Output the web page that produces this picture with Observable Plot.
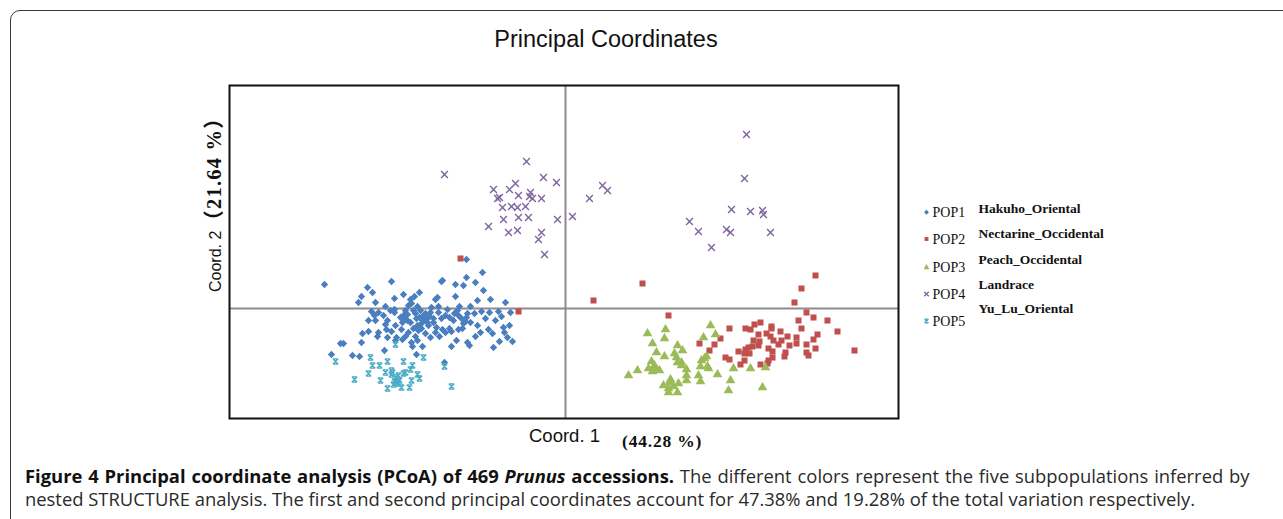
<!DOCTYPE html>
<html>
<head>
<meta charset="utf-8">
<script src="https://cdn.jsdelivr.net/npm/d3@7"></script>
<script src="https://cdn.jsdelivr.net/npm/@observablehq/plot@0.6"></script>
<style>
  html, body { margin: 0; padding: 0; background: #fff; }
  #page { position: relative; width: 1283px; height: 519px; overflow: hidden; background: #fff; }
  #box { position: absolute; left: 10px; top: 10px; width: 1400px; height: 700px; border: 1.5px solid #3a3a3a; border-top-left-radius: 10px; box-sizing: border-box; }
  #chart { position: absolute; left: 0; top: 50px; }
  #overlay { position: absolute; left: 0; top: 0; pointer-events: none; }
  #overlay text { white-space: pre; }
</style>
</head>
<body>
<div id="page">
  <div id="box"></div>
  <div id="chart"></div>
  <svg id="overlay" width="1283" height="519"></svg>
</div>
<script>
// ---- Data (PCoA coordinates, arbitrary units) ----
const popNames = ["POP1", "POP2", "POP3", "POP4", "POP5"];
const popLabels = ["Hakuho_Oriental", "Nectarine_Occidental", "Peach_Occidental", "Landrace", "Yu_Lu_Oriental"];
const popColors = ["#4a7ebf", "#c0504d", "#9bbb59", "#8064a2", "#4bacc6"];
const popSymbols = ["diamond2", "square", "triangle", "times", "star"];

const pop1 = [
[-0.99,0.49],[-0.83,0.36],[-2.41,0.24],[-1.74,0.27],[-1.98,0.21],[-1.93,0.16],[-2.04,0.12],[-2.07,0.06],[-1.90,0.06],[-1.71,0.10],
[-1.51,0.12],[-1.54,0.05],[-1.57,0.03],[-1.48,0.02],[-1.34,0.01],[-1.27,0.02],[-1.30,0.09],[-1.28,0.11],[-1.24,0.27],[-1.23,0.28],
[-1.10,0.24],[-1.02,0.23],[-0.99,0.31],[-0.90,0.26],[-0.75,0.09],[-1.06,0.02],[-0.95,0.02],
[-1.94,-0.03],[-1.87,-0.04],[-1.91,-0.07],[-1.90,-0.12],[-1.97,-0.12],[-1.78,-0.12],[-1.75,-0.02],[-1.71,-0.01],[-1.71,-0.04],
[-1.65,-0.09],[-1.61,-0.06],[-1.52,-0.02],[-1.50,-0.05],[-1.60,-0.10],[-1.55,-0.14],[-1.58,-0.12],[-1.49,-0.10],[-1.46,-0.09],
[-1.43,-0.08],[-1.39,-0.11],[-1.35,-0.04],[-1.27,-0.04],[-1.32,-0.10],[-1.32,-0.14],[-1.37,-0.17],[-1.44,-0.15],[-1.48,-0.17],
[-1.47,-0.22],[-1.44,-0.20],[-1.52,-0.20],[-1.57,-0.24],[-1.64,-0.21],[-1.70,-0.17],[-1.79,-0.21],[-1.74,-0.23],[-1.78,-0.29],
[-1.87,-0.24],[-1.88,-0.28],[-1.97,-0.23],[-2.03,-0.25],[-2.04,-0.34],[-2.22,-0.35],[-2.25,-0.35],[-2.34,-0.46],[-2.13,-0.47],
[-2.06,-0.48],[-1.81,-0.42],[-1.70,-0.32],[-1.69,-0.29],[-1.63,-0.31],[-1.54,-0.34],[-1.53,-0.38],[-1.43,-0.38],[-1.49,-0.46],
[-1.21,-0.54],[-1.20,-0.24],[-1.23,-0.21],[-1.29,-0.19],[-1.16,-0.20],[-1.14,-0.23],[-1.07,-0.21],[-1.03,-0.20],[-1.02,-0.15],
[-1.00,-0.13],[-0.99,-0.09],[-1.07,-0.07],[-1.11,-0.05],[-1.16,-0.09],[-1.08,-0.02],[-0.98,-0.05],[-0.91,-0.05],[-0.84,-0.03],
[-0.76,-0.04],[-0.67,-0.03],[-0.55,-0.04],[-0.88,-0.17],[-0.90,-0.28],[-0.85,-0.24],[-0.77,-0.21],[-0.73,-0.25],[-0.62,-0.19],
[-0.56,-0.17],[-0.61,-0.24],[-0.58,-0.29],[-0.53,-0.33],[-0.66,-0.33],[-0.72,-0.39],[-0.96,-0.37],[-0.98,-0.34],[-1.09,-0.32],
[-1.14,-0.38],[-1.30,-0.24],[-1.40,-0.05],[-1.45,-0.02],[-1.36,-0.08],[-1.60,-0.02],[-1.63,-0.14],[-1.58,-0.06],[-1.42,-0.12],
[-1.38,-0.14],[-1.24,-0.10],[-1.20,-0.07],[-1.12,-0.12],[-1.26,-0.28],[-1.50,-0.28],[-1.40,-0.25],[-1.60,-0.28],[-1.82,-0.07],
[-1.80,-0.16],[-1.48,-0.32],[-1.35,-0.29],[-1.04,-0.10],[-0.95,-0.14],[-0.80,-0.10],[-0.70,-0.12],[-0.64,-0.08],[-1.18,-0.01],
[-1.55,0.09],[-1.80,0.02],[-1.62,0.14],[-1.46,0.16],[-1.10,0.12],[-0.88,0.08],[-0.60,0.06],[-0.82,0.18]
];
const pop2 = [
[-1.05,0.50],[-0.47,-0.03],[0.28,0.08],[0.77,0.25],[1.03,-0.07],[2.50,0.33],[2.36,0.20],[2.29,0.06],[2.41,-0.04],[2.33,-0.12],
[2.48,-0.09],[2.62,-0.12],[2.36,-0.20],[2.72,-0.23],[2.89,-0.42],[2.52,-0.26],[2.48,-0.31],[2.50,-0.40],[2.41,-0.36],[2.41,-0.44],
[2.43,-0.47],[2.31,-0.29],[2.31,-0.35],[2.24,-0.37],[2.22,-0.28],[2.20,-0.44],[2.19,-0.48],[2.15,-0.23],[2.16,-0.32],[2.13,-0.36],
[2.08,-0.32],[2.06,-0.18],[2.06,-0.20],[2.01,-0.25],[2.05,-0.28],[2.03,-0.40],[2.07,-0.43],[2.07,-0.49],[2.03,-0.52],[2.02,-0.55],
[1.95,-0.56],[1.95,-0.14],[1.89,-0.16],[1.85,-0.21],[1.80,-0.20],[1.93,-0.26],[1.94,-0.33],[1.93,-0.37],[1.88,-0.32],[1.87,-0.38],
[1.83,-0.39],[1.80,-0.41],[1.84,-0.45],[1.79,-0.45],[1.73,-0.43],[1.79,-0.52],[1.75,-0.56],[1.64,-0.51],[1.60,-0.49],[1.64,-0.20],
[1.55,-0.30],[1.49,-0.36],[1.44,-0.42],[1.34,-0.35]
];
const pop3 = [
[1.45,-0.17],[1.50,-0.26],[1.38,-0.29],[0.82,-0.25],[1.00,-0.21],[0.99,-0.30],[0.87,-0.35],[1.12,-0.37],[1.17,-0.42],[0.91,-0.44],
[1.09,-0.45],[0.99,-0.48],[1.11,-0.49],[1.12,-0.54],[1.16,-0.54],[1.16,-0.57],[1.21,-0.61],[0.86,-0.53],[0.83,-0.60],[0.89,-0.57],
[0.91,-0.61],[0.94,-0.62],[0.87,-0.63],[0.72,-0.62],[0.63,-0.67],[1.21,-0.67],[1.21,-0.72],[1.05,-0.71],[1.04,-0.74],[1.13,-0.75],
[0.98,-0.77],[1.08,-0.78],[1.03,-0.80],[1.03,-0.84],[1.12,-0.84],[1.41,-0.48],[1.39,-0.50],[1.36,-0.52],[1.35,-0.58],[1.42,-0.58],
[1.43,-0.60],[1.33,-0.67],[1.35,-0.73],[1.52,-0.66],[1.65,-0.72],[1.63,-0.82],[1.68,-0.60],[1.85,-0.60],[2.00,-0.59],[1.97,-0.79]
];
const pop4 = [
[-1.21,1.34],[-0.39,1.47],[-0.22,1.31],[-0.09,1.26],[-0.72,1.19],[-0.50,1.25],[-0.56,1.19],[-0.47,1.13],[-0.35,1.16],[-0.36,1.12],
[-0.33,1.10],[-0.24,1.10],[-0.68,1.10],[-0.66,1.11],[-0.63,1.01],[-0.54,1.02],[-0.48,1.01],[-0.40,1.02],[-0.62,0.89],[-0.47,0.91],
[-0.37,0.91],[-0.08,0.89],[-0.77,0.82],[-0.57,0.76],[-0.48,0.78],[-0.24,0.76],[-0.27,0.69],[-0.21,0.54],[0.07,0.92],[0.24,1.10],
[0.37,1.23],[0.42,1.18],[1.81,1.74],[1.79,1.30],[1.66,0.99],[1.85,0.97],[1.97,0.98],[1.98,0.94],[1.24,0.87],[1.33,0.77],
[1.61,0.79],[1.65,0.76],[2.05,0.76],[1.46,0.61]
];
const pop5 = [
[-2.30,-0.53],[-1.95,-0.49],[-1.93,-0.57],[-1.86,-0.57],[-1.78,-0.53],[-1.62,-0.53],[-1.53,-0.57],[-1.55,-0.61],[-1.42,-0.49],[-1.48,-0.66],
[-1.46,-0.70],[-1.54,-0.72],[-1.56,-0.79],[-1.64,-0.79],[-1.78,-0.80],[-1.85,-0.72],[-1.97,-0.65],[-2.11,-0.71],[-1.80,-0.64],[-1.74,-0.62],
[-1.73,-0.64],[-1.74,-0.66],[-1.70,-0.69],[-1.67,-0.67],[-1.66,-0.72],[-1.69,-0.74],[-1.71,-0.73],[-1.67,-0.75],[-1.72,-0.76],[-1.62,-0.65],
[-1.60,-0.64],[-1.70,-0.36],[-1.21,-0.58],[-1.14,-0.78]
];
const xDomain = [-3.36, 3.33];
const yDomain = [-1.10, 2.23];

const title = "Principal Coordinates";
const xLabel = "Coord. 1";
const xLabelPct = "(44.28 %)";
const yLabel = "Coord. 2";
const yLabelPct = "（21.64 %）";

// ---- Build table ----
const pops = [pop1, pop2, pop3, pop4, pop5];
const rows = [];
pops.forEach((arr, i) => arr.forEach(([x, y]) => rows.push({x, y, pop: popNames[i]})));
const byPop = name => rows.filter(d => d.pop === name);

// Excel-like "star" marker: an X closed by short bars top and bottom
const symbolStar = {
  draw(context, size) {
    const r = Math.sqrt(size) * 0.5;
    context.moveTo(-r, -r); context.lineTo(r, r);
    context.moveTo(r, -r); context.lineTo(-r, r);
    context.moveTo(-r, -r); context.lineTo(r, -r);
    context.moveTo(-r, r); context.lineTo(r, r);
  }
};
const symMap = {diamond2: d3.symbolDiamond2, square: d3.symbolSquare, triangle: d3.symbolTriangle, times: d3.symbolTimes, star: symbolStar};
const filled = new Set(["diamond2", "square", "triangle"]);
const sizes = {diamond2: 3.3, square: 3.4, triangle: 3.6, times: 3.2, star: 3.0};

const marks = [
  Plot.ruleX([0], {stroke: "#8c8c8c", strokeWidth: 2}),
  Plot.ruleY([0], {stroke: "#8c8c8c", strokeWidth: 2})
];
popNames.forEach((name, i) => {
  const sym = popSymbols[i];
  const opts = {x: "x", y: "y", symbol: symMap[sym], r: sizes[sym]};
  if (filled.has(sym)) { opts.fill = popColors[i]; opts.stroke = "none"; }
  else { opts.stroke = popColors[i]; opts.fill = "none"; opts.strokeWidth = 1.4; }
  marks.push(Plot.dot(byPop(name), opts));
});
marks.push(Plot.frame({stroke: "#111", strokeWidth: 2}));

const chart = Plot.plot({
  width: 1283,
  height: 378,
  marginLeft: 229,
  marginRight: 385,
  marginTop: 35,
  marginBottom: 10,
  x: {domain: xDomain, axis: null},
  y: {domain: yDomain, axis: null},
  style: {background: "transparent", overflow: "visible"},
  marks
});
document.getElementById("chart").appendChild(chart);

// ---- Overlay: title, axis titles, legend, caption ----
const svg = d3.select("#overlay");
const sans = "'Liberation Sans', Arial, sans-serif";
const serif = "'Liberation Serif', 'Times New Roman', serif";
const serifCJK = "'Liberation Serif', 'Noto Sans CJK SC', serif";

svg.append("text").attr("x", 606).attr("y", 47).attr("text-anchor", "middle")
  .attr("font-family", sans).attr("font-size", 23.5).attr("fill", "#111").text(title);

svg.append("text").attr("x", 529).attr("y", 441.5)
  .attr("font-family", sans).attr("font-size", 18.5).attr("fill", "#111").text(xLabel);
svg.append("text").attr("x", 622).attr("y", 446.5)
  .attr("font-family", serif).attr("font-weight", "bold").attr("font-size", 17.5)
  .attr("letter-spacing", 0.8).attr("fill", "#111").text(xLabelPct);

const yl = svg.append("text").attr("transform", "translate(221,292) rotate(-90)")
  .attr("font-family", sans).attr("font-size", 16).attr("fill", "#111");
yl.append("tspan").text(yLabel);
yl.append("tspan").attr("font-family", serifCJK).attr("font-weight", "bold").attr("font-size", 20.5)
  .attr("letter-spacing", 1.2).text(yLabelPct);

// legend
const markerY = [212.3, 239, 267.5, 294, 321];
const popBase = [216.7, 243.7, 271.7, 299, 325.5];
const labBase = [213.3, 238.3, 264, 289, 313.3];
popNames.forEach((name, i) => {
  const sym = popSymbols[i];
  const path = d3.symbol(symMap[sym], Math.PI * 2.2 * 2.2)();
  const p = svg.append("path").attr("d", path).attr("transform", `translate(926.5,${markerY[i]})`);
  if (filled.has(sym)) p.attr("fill", popColors[i]);
  else p.attr("fill", "none").attr("stroke", popColors[i]).attr("stroke-width", 1.3);
  svg.append("text").attr("x", 932.5).attr("y", popBase[i])
    .attr("font-family", serif).attr("font-size", 14).attr("fill", "#111").text(name);
  svg.append("text").attr("x", 978.5).attr("y", labBase[i])
    .attr("font-family", serif).attr("font-weight", "bold").attr("font-size", 13.5).attr("fill", "#111").text(popLabels[i]);
});

// caption (first line justified to the full width)
const capFont = "'Open Sans', 'Noto Sans', sans-serif";
const capSize = 18.4;
const c1 = svg.append("text").attr("x", 25).attr("y", 483).attr("font-family", capFont).attr("font-size", capSize)
  .attr("word-spacing", 1.05).attr("fill", "#2a2a2a");
c1.append("tspan").attr("font-weight", "bold").attr("fill", "#111").text("Figure 4 Principal coordinate analysis (PCoA) of 469 ");
c1.append("tspan").attr("font-weight", "bold").attr("font-style", "italic").attr("fill", "#111").text("Prunus");
c1.append("tspan").attr("font-weight", "bold").attr("fill", "#111").text(" accessions.");
c1.append("tspan").text(" The different colors represent the five subpopulations inferred by");
svg.append("text").attr("x", 25).attr("y", 506).attr("font-family", capFont).attr("font-size", capSize).attr("fill", "#2a2a2a")
  .text("nested STRUCTURE analysis. The first and second principal coordinates account for 47.38% and 19.28% of the total variation respectively.");
</script>
</body>
</html>
